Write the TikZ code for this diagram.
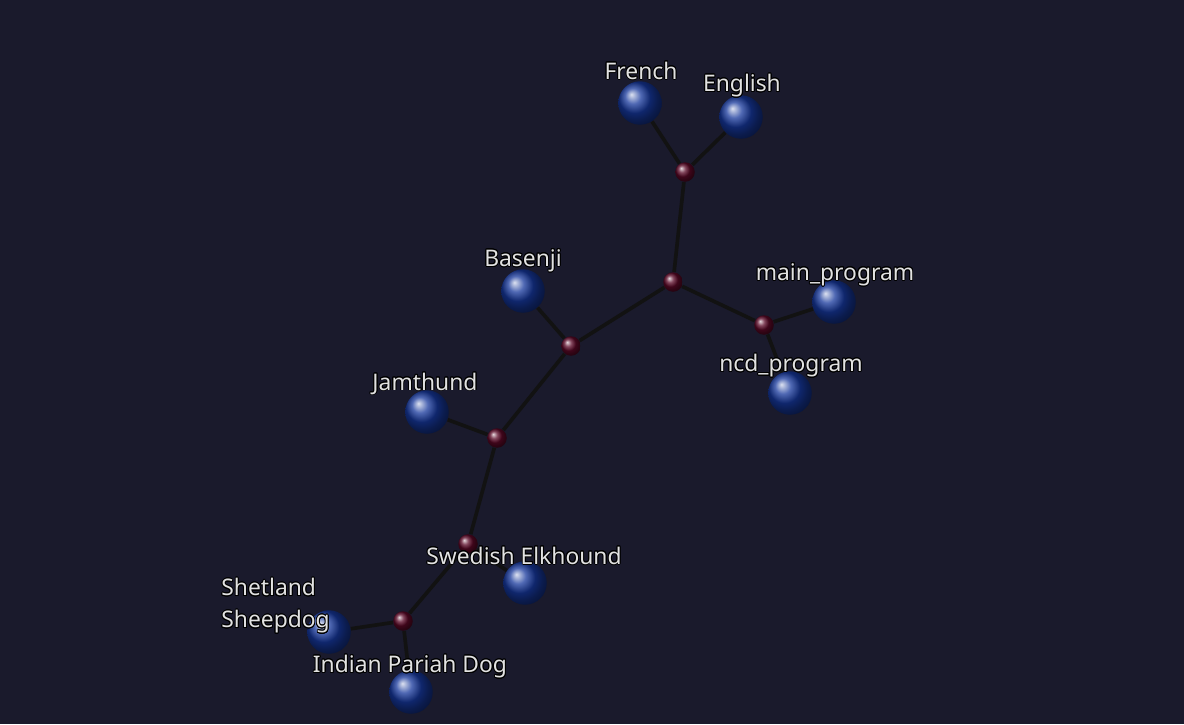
\documentclass[tikz,border=0pt]{standalone}
\usepackage{fontspec}
\setmainfont{Noto Sans}
\usepackage{xcolor}
\usepackage{tikz}
\usepackage{contour}
\usetikzlibrary{positioning}

\definecolor{bgnavy}{RGB}{26,26,44}
\definecolor{leafblue}{RGB}{22,55,155}
\definecolor{forkred}{RGB}{90,8,38}
\definecolor{stick}{RGB}{18,18,18}
\definecolor{labelgray}{RGB}{226,226,226}
\contourlength{0.5pt}

\begin{document}
\begin{tikzpicture}[x=0.02cm, y=-0.02cm]

% Define styles
\tikzset{
    leaf/.style={circle, ball color=leafblue, minimum size=0.87cm, inner sep=0pt},
    fork/.style={circle, ball color=forkred, minimum size=0.39cm, inner sep=0pt},
    edge/.style={draw=stick, line width=2.1pt},
    tag/.style={text=labelgray, font=\fontsize{13}{18}\selectfont, inner sep=0pt}
}

% background
\fill[bgnavy] (0,0) rectangle (1184,724);
\useasboundingbox (0,0) rectangle (1184,724);

% inner forks of the tree
\node[fork] (j1) at (685,172) {};
\node[fork] (j2) at (673,282) {};
\node[fork] (j3) at (764,325) {};
\node[fork] (j4) at (571,346) {};
\node[fork] (j5) at (497,438) {};
\node[fork] (j6) at (468,544) {};
\node[fork] (j7) at (403,621) {};

% leaves
\node[leaf] (french) at (640,103) {};
\node[leaf] (english) at (741,117) {};
\node[leaf] (basenji) at (523,291) {};
\node[leaf] (mainprog) at (834,302) {};
\node[leaf] (ncdprog) at (790,393) {};
\node[leaf] (jamthund) at (427,412) {};
\node[leaf] (elkhound) at (525,583) {};
\node[leaf] (sheltie) at (329,632) {};
\node[leaf] (pariah) at (411,692) {};

% sticks
\draw[edge] (j1) -- (french);
\draw[edge] (j1) -- (english);
\draw[edge] (j1) -- (j2);
\draw[edge] (j2) -- (j3);
\draw[edge] (j3) -- (mainprog);
\draw[edge] (j3) -- (ncdprog);
\draw[edge] (j2) -- (j4);
\draw[edge] (j4) -- (basenji);
\draw[edge] (j4) -- (j5);
\draw[edge] (j5) -- (jamthund);
\draw[edge] (j5) -- (j6);
\draw[edge] (j6) -- (elkhound);
\draw[edge] (j6) -- (j7);
\draw[edge] (j7) -- (sheltie);
\draw[edge] (j7) -- (pariah);

% labels
\node[tag] (frenchtag) at (641,71) {\contour{black}{French}};
\node[tag] (englishtag) at (742,86) {\contour{black}{English}};
\node[tag] (basenjitag) at (523,261) {\contour{black}{Basenji}};
\node[tag] (maintag) at (835,275) {\contour{black}{main\_program}};
\node[tag] (ncdtag) at (791,366) {\contour{black}{ncd\_program}};
\node[tag] (jamthundtag) at (425,384) {\contour{black}{Jamthund}};
\node[tag] (elkhoundtag) at (524,556) {\contour{black}{Swedish Elkhound}};
\node[tag, anchor=north west] (sheltietag) at (221,578) {\contour{black}{Shetland}};
\node[tag, anchor=north west] (sheltietag2) at (221,610) {\contour{black}{Sheepdog}};
\node[tag] (pariahtag) at (410,667) {\contour{black}{Indian Pariah Dog}};

\end{tikzpicture}
\end{document}
